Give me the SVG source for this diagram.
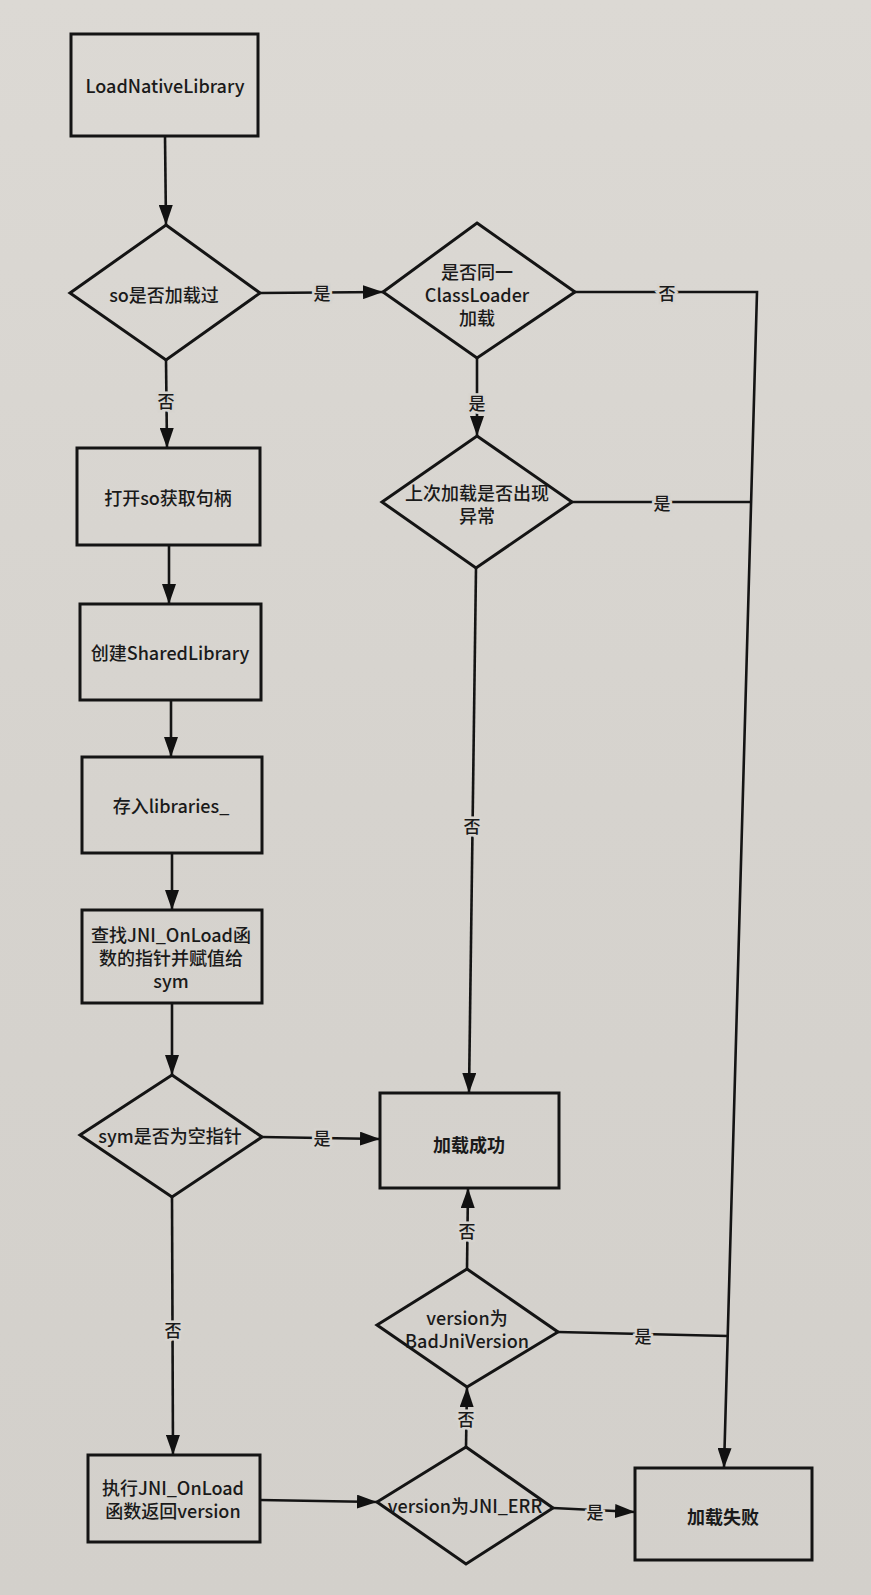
<svg xmlns="http://www.w3.org/2000/svg" width="871" height="1595" viewBox="0 0 871 1595">
<defs>
<linearGradient id="bg" x1="0" y1="0" x2="0" y2="1">
<stop offset="0" stop-color="#dcd9d4"/>
<stop offset="0.5" stop-color="#d6d3ce"/>
<stop offset="1" stop-color="#d3d0cb"/>
</linearGradient>
<marker id="ah" markerUnits="userSpaceOnUse" markerWidth="20" markerHeight="14" refX="20" refY="7" orient="auto">
<path d="M0,0 L20,7 L0,14 z" fill="#111"/>
</marker>
<style>
.n{fill:none;stroke:#141414;stroke-width:3;stroke-linejoin:miter}
.t{font-family:"Noto Sans CJK SC","Noto Sans",sans-serif;font-size:18px;font-weight:500;fill:#1a1a1a;text-anchor:middle;dominant-baseline:central}
.b{font-weight:bold}
.c{fill:none;stroke:#141414;stroke-width:2.6}
.l{font-family:"Noto Sans CJK SC",sans-serif;font-size:17px;font-weight:500;fill:#1a1a1a;text-anchor:middle;dominant-baseline:central;stroke:#d7d4cf;stroke-width:5;paint-order:stroke}
</style>
</defs>
<rect width="871" height="1595" fill="url(#bg)"/>

<g id="connectors">
<path class="c" d="M165,136 L166,225" marker-end="url(#ah)"/>
<path class="c" d="M166,360 L167,448" marker-end="url(#ah)"/>
<path class="c" d="M169,545 L169,604" marker-end="url(#ah)"/>
<path class="c" d="M171,700 L171,757" marker-end="url(#ah)"/>
<path class="c" d="M172,853 L172,910" marker-end="url(#ah)"/>
<path class="c" d="M172,1003 L172,1075" marker-end="url(#ah)"/>
<path class="c" d="M172,1197 L173,1455" marker-end="url(#ah)"/>
<path class="c" d="M260,293 L383,292" marker-end="url(#ah)"/>
<path class="c" d="M477,358 L477,436" marker-end="url(#ah)"/>
<path class="c" d="M575,292 L757,292 L724,1468" marker-end="url(#ah)"/>
<path class="c" d="M572,502 L751,502"/>
<path class="c" d="M476,568 L469,1093" marker-end="url(#ah)"/>
<path class="c" d="M262,1137 L380,1139" marker-end="url(#ah)"/>
<path class="c" d="M467,1269 L468,1188" marker-end="url(#ah)"/>
<path class="c" d="M558,1332 L728,1336"/>
<path class="c" d="M260,1500 L377,1502" marker-end="url(#ah)"/>
<path class="c" d="M466,1447 L467,1387" marker-end="url(#ah)"/>
<path class="c" d="M553,1508 L635,1512" marker-end="url(#ah)"/>
<text class="l" x="322" y="292">是</text>
<text class="l" x="166" y="400">否</text>
<text class="l" x="477" y="402">是</text>
<text class="l" x="667" y="292">否</text>
<text class="l" x="662" y="502">是</text>
<text class="l" x="472" y="825">否</text>
<text class="l" x="322" y="1137">是</text>
<text class="l" x="467" y="1230">否</text>
<text class="l" x="643" y="1335">是</text>
<text class="l" x="173" y="1329">否</text>
<text class="l" x="466" y="1418">否</text>
<text class="l" x="595" y="1511">是</text>
</g>

<g id="n1">
<rect class="n" x="71" y="34" width="187" height="102"/>
<text class="t" x="165" y="85">LoadNativeLibrary</text>
</g>
<g id="d1">
<path class="n" d="M166,225 L260,293 L166,360 L70,293 Z"/>
<text class="t" x="164" y="294">so是否加载过</text>
</g>
<g id="d2">
<path class="n" d="M477,223 L575,292 L477,358 L383,292 Z"/>
<text class="t" x="477" y="271">是否同一</text>
<text class="t" x="477" y="294">ClassLoader</text>
<text class="t" x="477" y="317">加载</text>
</g>
<g id="d3">
<path class="n" d="M477,436 L572,502 L476,568 L382,502 Z"/>
<text class="t" x="477" y="492">上次加载是否出现</text>
<text class="t" x="477" y="515">异常</text>
</g>
<g id="n2">
<rect class="n" x="77" y="448" width="183" height="97"/>
<text class="t" x="168" y="497">打开so获取句柄</text>
</g>
<g id="n3">
<rect class="n" x="80" y="604" width="181" height="96"/>
<text class="t" x="170" y="652">创建SharedLibrary</text>
</g>
<g id="n4">
<rect class="n" x="82" y="757" width="180" height="96"/>
<text class="t" x="171" y="805">存入libraries_</text>
</g>
<g id="n5">
<rect class="n" x="82" y="910" width="180" height="93"/>
<text class="t" x="171" y="934">查找JNI_OnLoad函</text>
<text class="t" x="171" y="957">数的指针并赋值给</text>
<text class="t" x="171" y="980">sym</text>
</g>
<g id="d4">
<path class="n" d="M172,1075 L262,1137 L172,1197 L80,1135 Z"/>
<text class="t" x="170" y="1135">sym是否为空指针</text>
</g>
<g id="n6">
<rect class="n" x="380" y="1093" width="179" height="95"/>
<text class="t b" x="469" y="1144">加载成功</text>
</g>
<g id="d5">
<path class="n" d="M467,1269 L558,1332 L467,1387 L377,1325 Z"/>
<text class="t" x="467" y="1317">version为</text>
<text class="t" x="467" y="1340">BadJniVersion</text>
</g>
<g id="n7">
<rect class="n" x="88" y="1455" width="172" height="87"/>
<text class="t" x="173" y="1487">执行JNI_OnLoad</text>
<text class="t" x="173" y="1510">函数返回version</text>
</g>
<g id="d6">
<path class="n" d="M466,1447 L553,1508 L466,1564 L377,1502 Z"/>
<text class="t" x="465" y="1505">version为JNI_ERR</text>
</g>
<g id="n8">
<rect class="n" x="635" y="1468" width="177" height="92"/>
<text class="t b" x="723" y="1516">加载失败</text>
</g>
</svg>
